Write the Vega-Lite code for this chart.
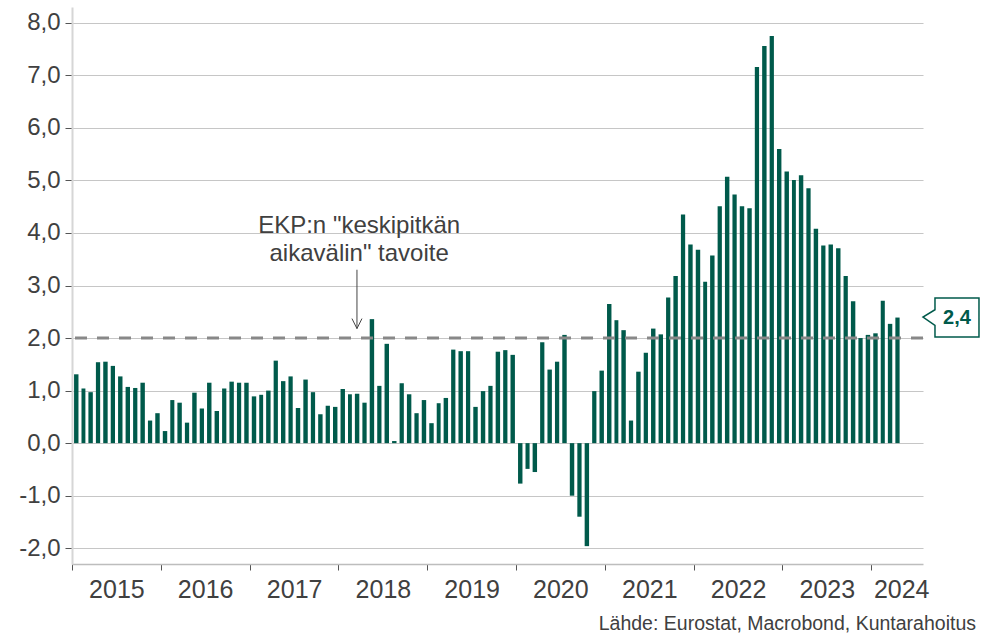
{
  "$schema": "https://vega.github.io/schema/vega-lite/v6.json",
  "width": 851,
  "height": 557,
  "autosize": "none",
  "padding": {"left": 72, "top": 7, "right": 58, "bottom": 70},
  "background": "white",
  "config": {
    "view": {"stroke": null},
    "font": "Liberation Sans",
    "locale": {"number": {"decimal": ",", "thousands": "\u00a0", "grouping": [3], "currency": ["", " €"], "minus": "-"}}
  },
  "title": {
    "text": "Lähde: Eurostat, Macrobond, Kuntarahoitus",
    "orient": "bottom",
    "anchor": "end",
    "fontSize": 19.5,
    "fontWeight": "normal",
    "color": "#404040",
    "font": "Liberation Sans",
    "offset": 13,
    "dx": -6
  },
  "datasets": {
    "hicp": [
      {"d": "2015-01-01", "v": 1.31}, {"d": "2015-02-01", "v": 1.04}, {"d": "2015-03-01", "v": 0.97}, {"d": "2015-04-01", "v": 1.54},
      {"d": "2015-05-01", "v": 1.55}, {"d": "2015-06-01", "v": 1.47}, {"d": "2015-07-01", "v": 1.27}, {"d": "2015-08-01", "v": 1.07},
      {"d": "2015-09-01", "v": 1.05}, {"d": "2015-10-01", "v": 1.15}, {"d": "2015-11-01", "v": 0.43}, {"d": "2015-12-01", "v": 0.57},
      {"d": "2016-01-01", "v": 0.23}, {"d": "2016-02-01", "v": 0.82}, {"d": "2016-03-01", "v": 0.77}, {"d": "2016-04-01", "v": 0.39},
      {"d": "2016-05-01", "v": 0.96}, {"d": "2016-06-01", "v": 0.66}, {"d": "2016-07-01", "v": 1.15}, {"d": "2016-08-01", "v": 0.61},
      {"d": "2016-09-01", "v": 1.04}, {"d": "2016-10-01", "v": 1.17}, {"d": "2016-11-01", "v": 1.15}, {"d": "2016-12-01", "v": 1.15},
      {"d": "2017-01-01", "v": 0.89}, {"d": "2017-02-01", "v": 0.92}, {"d": "2017-03-01", "v": 1.0}, {"d": "2017-04-01", "v": 1.57},
      {"d": "2017-05-01", "v": 1.18}, {"d": "2017-06-01", "v": 1.27}, {"d": "2017-07-01", "v": 0.67}, {"d": "2017-08-01", "v": 1.21},
      {"d": "2017-09-01", "v": 0.97}, {"d": "2017-10-01", "v": 0.55}, {"d": "2017-11-01", "v": 0.71}, {"d": "2017-12-01", "v": 0.69},
      {"d": "2018-01-01", "v": 1.03}, {"d": "2018-02-01", "v": 0.93}, {"d": "2018-03-01", "v": 0.94}, {"d": "2018-04-01", "v": 0.77},
      {"d": "2018-05-01", "v": 2.36}, {"d": "2018-06-01", "v": 1.09}, {"d": "2018-07-01", "v": 1.89}, {"d": "2018-08-01", "v": 0.04},
      {"d": "2018-09-01", "v": 1.14}, {"d": "2018-10-01", "v": 0.93}, {"d": "2018-11-01", "v": 0.57}, {"d": "2018-12-01", "v": 0.82},
      {"d": "2019-01-01", "v": 0.38}, {"d": "2019-02-01", "v": 0.76}, {"d": "2019-03-01", "v": 0.86}, {"d": "2019-04-01", "v": 1.78},
      {"d": "2019-05-01", "v": 1.75}, {"d": "2019-06-01", "v": 1.75}, {"d": "2019-07-01", "v": 0.69}, {"d": "2019-08-01", "v": 0.99},
      {"d": "2019-09-01", "v": 1.09}, {"d": "2019-10-01", "v": 1.74}, {"d": "2019-11-01", "v": 1.77}, {"d": "2019-12-01", "v": 1.68},
      {"d": "2020-01-01", "v": -0.77}, {"d": "2020-02-01", "v": -0.49}, {"d": "2020-03-01", "v": -0.55}, {"d": "2020-04-01", "v": 1.92},
      {"d": "2020-05-01", "v": 1.4}, {"d": "2020-06-01", "v": 1.55}, {"d": "2020-07-01", "v": 2.06}, {"d": "2020-08-01", "v": -1.0},
      {"d": "2020-09-01", "v": -1.4}, {"d": "2020-10-01", "v": -1.96}, {"d": "2020-11-01", "v": 0.99}, {"d": "2020-12-01", "v": 1.38},
      {"d": "2021-01-01", "v": 2.65}, {"d": "2021-02-01", "v": 2.34}, {"d": "2021-03-01", "v": 2.15}, {"d": "2021-04-01", "v": 0.43},
      {"d": "2021-05-01", "v": 1.36}, {"d": "2021-06-01", "v": 1.72}, {"d": "2021-07-01", "v": 2.18}, {"d": "2021-08-01", "v": 2.07},
      {"d": "2021-09-01", "v": 2.77}, {"d": "2021-10-01", "v": 3.18}, {"d": "2021-11-01", "v": 4.35}, {"d": "2021-12-01", "v": 3.78},
      {"d": "2022-01-01", "v": 3.68}, {"d": "2022-02-01", "v": 3.07}, {"d": "2022-03-01", "v": 3.57}, {"d": "2022-04-01", "v": 4.51},
      {"d": "2022-05-01", "v": 5.07}, {"d": "2022-06-01", "v": 4.73}, {"d": "2022-07-01", "v": 4.51}, {"d": "2022-08-01", "v": 4.47},
      {"d": "2022-09-01", "v": 7.16}, {"d": "2022-10-01", "v": 7.56}, {"d": "2022-11-01", "v": 7.75}, {"d": "2022-12-01", "v": 5.6},
      {"d": "2023-01-01", "v": 5.17}, {"d": "2023-02-01", "v": 5.01}, {"d": "2023-03-01", "v": 5.1}, {"d": "2023-04-01", "v": 4.85},
      {"d": "2023-05-01", "v": 4.08}, {"d": "2023-06-01", "v": 3.76}, {"d": "2023-07-01", "v": 3.78}, {"d": "2023-08-01", "v": 3.71},
      {"d": "2023-09-01", "v": 3.18}, {"d": "2023-10-01", "v": 2.7}, {"d": "2023-11-01", "v": 2.0}, {"d": "2023-12-01", "v": 2.06},
      {"d": "2024-01-01", "v": 2.09}, {"d": "2024-02-01", "v": 2.71}, {"d": "2024-03-01", "v": 2.27}, {"d": "2024-04-01", "v": 2.39}
    ],
    "target": [
      {"target": 2}
    ],
    "note": [
      {"d": "2018-03-27", "arrowDate": "2018-03-18", "textY": 3.99, "arrowTop": 3.3, "arrowTip": 2.18, "label": ["EKP:n \"keskipitkän", "aikavälin\" tavoite"]}
    ],
    "last": [
      {"d": "2024-04-16", "v": 2.4, "label": "2,4"}
    ]
  },
  "layer": [
    {
      "data": {"name": "hicp"},
      "mark": {"type": "bar", "color": "#005a4b", "width": {"band": 0.72}},
      "encoding": {
        "x": {
          "field": "d",
          "timeUnit": "utcyearmonth",
          "type": "temporal",
          "scale": {"domain": [{"year": 2015, "month": 1, "date": 1, "utc": true}, {"year": 2024, "month": 8, "date": 1, "utc": true}]},
          "axis": {
            "title": null,
            "tickCount": "year",
            "format": "%Y",
            "grid": false,
            "domainColor": "#bdbdbd",
            "domainWidth": 1.5,
            "tickColor": "#555555",
            "tickSize": 6,
            "tickWidth": 1,
            "labelFontSize": 25,
            "labelFont": "Liberation Sans",
            "labelColor": "#404040",
            "labelAlign": "center",
            "labelBaseline": "top",
            "labelPadding": 7,
            "labelOverlap": false,
            "labelBound": false,
            "labelFlush": false,
            "labelOffset": {"condition": {"test": "utcyear(datum.value) === 2024", "value": 30}, "value": 44.4}
          }
        },
        "y": {
          "field": "v",
          "type": "quantitative",
          "scale": {"domain": [-2.3, 8.3], "nice": false, "zero": false},
          "axis": {
            "title": null,
            "values": [-2, -1, 0, 1, 2, 3, 4, 5, 6, 7, 8],
            "format": ".1f",
            "grid": true,
            "gridColor": "#c6c6c6",
            "gridWidth": 1.2,
            "domainColor": "#d6d6d6",
            "domainWidth": 2,
            "tickColor": "#555555",
            "tickSize": 7,
            "tickWidth": 1,
            "labelFontSize": 24,
            "labelFont": "Liberation Sans",
            "labelColor": "#404040",
            "labelPadding": 5
          }
        }
      }
    },
    {
      "data": {"name": "target"},
      "mark": {"type": "rule", "color": "#888888", "strokeWidth": 3, "strokeDash": [12, 10]},
      "encoding": {"y": {"field": "target", "type": "quantitative"}}
    },
    {
      "data": {"name": "note"},
      "mark": {"type": "text", "fontSize": 24, "font": "Liberation Sans", "color": "#404040", "align": "center", "baseline": "alphabetic", "lineHeight": 27.7},
      "encoding": {
        "x": {"field": "d", "type": "temporal"},
        "y": {"field": "textY", "type": "quantitative"},
        "text": {"field": "label"}
      }
    },
    {
      "data": {"name": "note"},
      "mark": {"type": "rule", "color": "#444444", "strokeWidth": 1},
      "encoding": {
        "x": {"field": "arrowDate", "type": "temporal"},
        "y": {"field": "arrowTop", "type": "quantitative"},
        "y2": {"field": "arrowTip"}
      }
    },
    {
      "data": {"name": "note"},
      "mark": {"type": "point", "shape": "M -5 -10 L 0 0 L 5 -10", "size": 4, "filled": false, "stroke": "#444444", "strokeWidth": 1, "opacity": 1},
      "encoding": {
        "x": {"field": "arrowDate", "type": "temporal"},
        "y": {"field": "arrowTip", "type": "quantitative"}
      }
    },
    {
      "data": {"name": "last"},
      "mark": {"type": "point", "shape": "M 38 -19 L 82 -19 L 82 20 L 38 20 L 38 8.4 L 26 0 L 38 -7.3 Z", "size": 4, "filled": true, "fill": "white", "stroke": "#005a4b", "strokeWidth": 1.5, "opacity": 1, "fillOpacity": 1},
      "encoding": {
        "x": {"field": "d", "type": "temporal"},
        "y": {"field": "v", "type": "quantitative"}
      }
    },
    {
      "data": {"name": "last"},
      "mark": {"type": "text", "fontSize": 20, "fontWeight": "bold", "font": "Liberation Sans", "color": "#005a4b", "align": "center", "baseline": "middle", "dx": 60, "dy": 1},
      "encoding": {
        "x": {"field": "d", "type": "temporal"},
        "y": {"field": "v", "type": "quantitative"},
        "text": {"field": "label"}
      }
    }
  ]
}
